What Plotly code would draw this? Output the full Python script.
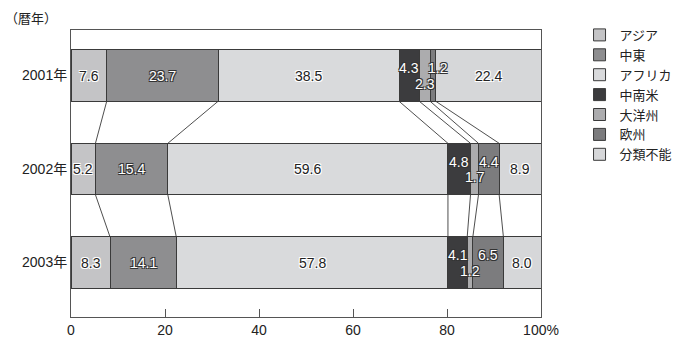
import plotly.graph_objects as go
import numpy as np

years = ["2001年", "2002年", "2003年"]
regions = ["アジア", "中東", "アフリカ", "中南米", "大洋州", "欧州", "分類不能"]
asia = [7.6, 5.2, 8.3]
mideast = [23.7, 15.4, 14.1]
africa = [38.5, 59.6, 57.8]
latam = [4.3, 4.8, 4.1]
oceania = [2.3, 1.7, 1.2]
europe = [1.2, 4.4, 6.5]
unknown = [22.4, 8.9, 8.0]
xtick_vals = [0, 20, 40, 60, 80, 100]
xtick_text = ["0", "20", "40", "60", "80", "100%"]

series = [asia, mideast, africa, latam, oceania, europe, unknown]
colors = ["#c4c4c6", "#8e8e90", "#d9dadc", "#3c3c3e", "#acacae", "#7c7c7e", "#d6d7d9"]
light_label = [False, True, False, True, True, True, False]
# label vertical offset (data units) for crowded small segments
label_dy = [0, 0, 0, -0.08, 0.09, -0.08, 0]

FONT = "Liberation Sans, Noto Sans CJK JP"
ypos = [0, 1, 2]
W = 0.55

fig = go.Figure()
for name, vals, col in zip(regions, series, colors):
    fig.add_trace(go.Bar(
        y=ypos, x=vals, name=name, orientation="h", width=W,
        marker=dict(color=col, line=dict(color="#3a3a3a", width=1)),
        hoverinfo="x+name",
    ))

# connecting lines between cumulative boundaries
cum = np.cumsum(np.array(series), axis=0)  # shape (7, 3)
lx, ly = [], []
for k in range(len(series) - 1):
    for i in range(len(years) - 1):
        lx += [cum[k][i], cum[k][i + 1], None]
        ly += [ypos[i] + W / 2, ypos[i + 1] - W / 2, None]
fig.add_trace(go.Scatter(x=lx, y=ly, mode="lines", line=dict(color="#3a3a3a", width=0.9),
                         showlegend=False, hoverinfo="skip"))

# labels
starts = np.vstack([np.zeros(3), cum[:-1]])
for k, vals in enumerate(series):
    for i, v in enumerate(vals):
        mid = starts[k][i] + v / 2
        if light_label[k]:
            fc, sh = "#ffffff", "-1px -1px 0 #333, 1px -1px 0 #333, -1px 1px 0 #333, 1px 1px 0 #333"
        else:
            fc, sh = "#222222", "-1px -1px 0 #fff, 1px -1px 0 #fff, -1px 1px 0 #fff, 1px 1px 0 #fff"
        xs = 5 if (k == 5 and v < 2) else 0
        fig.add_annotation(x=mid, y=ypos[i] + label_dy[k], text=f"{v:.1f}", showarrow=False,
                           xshift=xs,
                           font=dict(family=FONT, size=14, color=fc, shadow=sh),
                           xanchor="center", yanchor="middle")

fig.add_annotation(xref="paper", yref="paper", x=-0.145, y=1.041, text="（暦年）",
                   showarrow=False, xanchor="left", yanchor="middle",
                   font=dict(family=FONT, size=13, color="#222"))

fig.update_layout(
    barmode="stack",
    width=689, height=350,
    margin=dict(l=71, r=145, t=30, b=30),
    paper_bgcolor="white", plot_bgcolor="white",
    font=dict(family=FONT, size=13, color="#222"),
    legend=dict(x=1.082, y=1.035, xanchor="left", yanchor="top", traceorder="normal",
                font=dict(family=FONT, size=13, color="#222"), itemwidth=30,
                tracegroupgap=0, bgcolor="rgba(0,0,0,0)"),
    xaxis=dict(range=[0, 100], tickvals=xtick_vals, ticktext=xtick_text,
               ticks="inside", ticklen=8, tickcolor="#555", showgrid=False, zeroline=False,
               showline=True, linecolor="#555", linewidth=1, mirror=True,
               tickfont=dict(family=FONT, size=14, color="#222")),
    yaxis=dict(range=[2.582, -0.487], tickvals=ypos, ticktext=years,
               showgrid=False, zeroline=False, showline=True, linecolor="#555", linewidth=1,
               mirror=True, ticks="", ticklen=6, tickfont=dict(family=FONT, size=14, color="#222")),
)

fig.write_html("out.html")
